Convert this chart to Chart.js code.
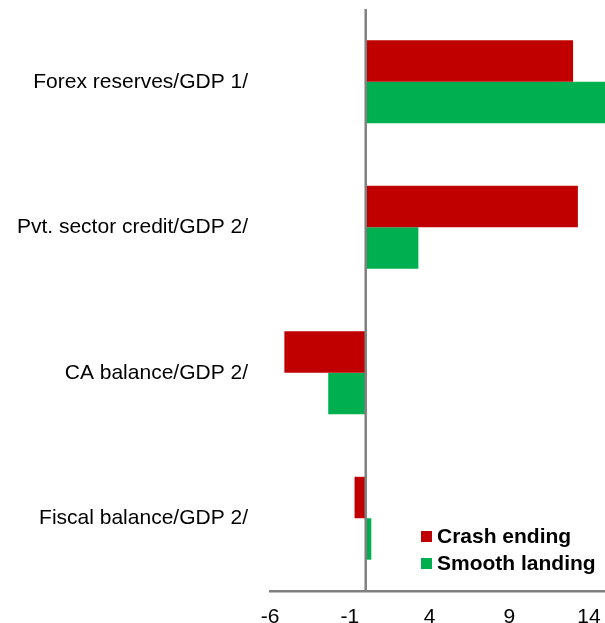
<!DOCTYPE html>
<html>
<head>
<meta charset="utf-8">
<script src="https://cdn.jsdelivr.net/npm/chart.js@4/dist/chart.umd.min.js"></script>
<style>
  html, body { margin: 0; padding: 0; background: #fff; }
  canvas { display: block; }
</style>
</head>
<body>
<canvas id="myChart" width="605" height="623"></canvas>
<script>
const categories = ['Forex reserves/GDP 1/', 'Pvt. sector credit/GDP 2/', 'CA balance/GDP 2/', 'Fiscal balance/GDP 2/'];
const crashEnding = [13.0, 13.3, -5.1, -0.7];
const smoothLanding = [15.2, 3.3, -2.35, 0.35];
const xTickValues = [-6, -1, 4, 9, 14];

const RED = '#c00000';
const GREEN = '#00b050';
const AXIS_GREY = '#808080';
const FONT = 'Arial, "Liberation Sans", sans-serif';

// vertical line through zero, drawn over the bars
const zeroLine = {
	id: 'zeroLine',
	afterDatasetsDraw(chart) {
		const {ctx, chartArea, scales} = chart;
		const x = scales.x.getPixelForValue(0);
		ctx.save();
		ctx.strokeStyle = AXIS_GREY;
		ctx.lineWidth = 2.5;
		ctx.beginPath();
		ctx.moveTo(x, chartArea.top);
		ctx.lineTo(x, chartArea.bottom);
		ctx.stroke();
		ctx.restore();
	}
};

// small legend sitting in the lower right corner of the plot
const cornerLegend = {
	id: 'cornerLegend',
	afterDraw(chart) {
		const ctx = chart.ctx;
		const left = 421, top = 531, rowGap = 27, box = 11;
		ctx.save();
		ctx.font = 'bold 21px ' + FONT;
		ctx.textBaseline = 'middle';
		chart.data.datasets.forEach(function(ds, i) {
			const y = top + i * rowGap;
			ctx.fillStyle = ds.backgroundColor;
			ctx.fillRect(left, y, box, box);
			ctx.fillStyle = '#000';
			ctx.fillText(ds.label, left + box + 5, y + box / 2 + 1);
		});
		ctx.restore();
	}
};

const ctx = document.getElementById('myChart');

const myChart = new Chart(ctx, {
	type: 'bar',
	data: {
		labels: categories,
		datasets: [{
			label: 'Crash ending',
			data: crashEnding,
			backgroundColor: RED,
			borderWidth: 0
		}, {
			label: 'Smooth landing',
			data: smoothLanding,
			backgroundColor: GREEN,
			borderWidth: 0
		}]
	},
	options: {
		indexAxis: 'y',
		responsive: false,
		animation: false,
		devicePixelRatio: 1,
		categoryPercentage: 0.57,
		barPercentage: 1.0,
		layout: {
			padding: {top: 9, right: 0, bottom: 0, left: 0}
		},
		scales: {
			x: {
				type: 'linear',
				min: -6,
				max: 15,
				afterBuildTicks: function(scale) {
					scale.ticks = xTickValues.map(v => ({value: v}));
				},
				afterFit: function(scale) {
					scale.height = 32;
					scale.paddingLeft = 0;
					scale.paddingRight = 0;
				},
				grid: {
					display: false,
					drawTicks: false
				},
				border: {
					display: true,
					color: AXIS_GREY,
					width: 2.5
				},
				ticks: {
					color: '#000',
					padding: 14,
					maxRotation: 0,
					autoSkip: false,
					font: {family: FONT, size: 21}
				}
			},
			y: {
				afterFit: function(scale) {
					scale.width = 270;
					scale.paddingTop = 0;
					scale.paddingBottom = 0;
				},
				grid: {
					display: false,
					drawTicks: false
				},
				border: {
					display: false
				},
				ticks: {
					color: '#000',
					padding: 22,
					font: {family: FONT, size: 21}
				}
			}
		},
		plugins: {
			legend: {
				display: false
			},
			tooltip: {
				enabled: false
			}
		}
	},
	plugins: [zeroLine, cornerLegend]
});
</script>
</body>
</html>
